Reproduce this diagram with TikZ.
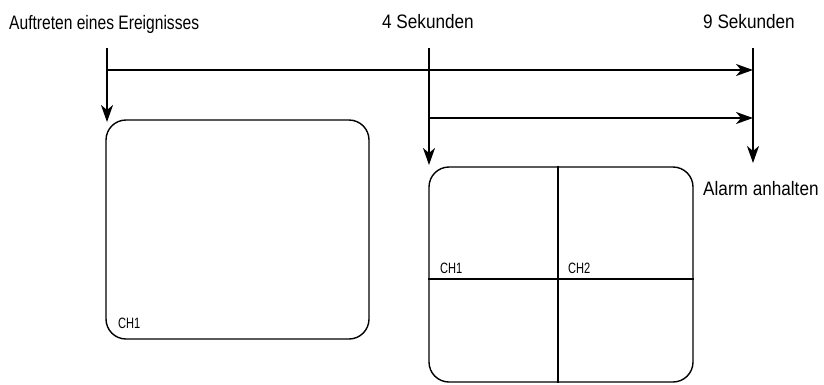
\documentclass[tikz,border=0pt]{standalone}
\usepackage{fontspec}
\setmainfont{Liberation Sans}[FakeStretch=0.88]
\newfontfamily\evfont{Liberation Sans}[FakeStretch=0.8]
\newfontfamily\chfont{Liberation Sans}[FakeStretch=0.74]
\usetikzlibrary{positioning,arrows.meta}
\tikzset{
  tline/.style={-{Stealth[length=17pt,width=12pt,inset=5pt]},line width=1.6pt},
  screen/.style={draw,line width=1.4pt,rounded corners=20pt,inner sep=0pt},
  divln/.style={line width=1.4pt},
  lbl/.style={font=\fontsize{19.5}{22}\selectfont,inner sep=0pt,anchor=base west},
  chlbl/.style={font=\chfont\fontsize{15}{17}\selectfont,inner sep=0pt,anchor=base west},
}
\begin{document}
\begin{tikzpicture}[x=1pt,y=-1pt]
  \useasboundingbox (0,0) rectangle (824,384);
  % time marks
  \node[lbl,font=\evfont\fontsize{19.5}{22}\selectfont] (ev) at (9,29) {Auftreten eines Ereignisses};
  \node[lbl] (sec4) at (382,28) {4 Sekunden};
  \node[lbl] (sec9) at (703,28) {9 Sekunden};
  \coordinate (ev0) at (107,48);
  \coordinate (ev1) at (107,122);
  \coordinate (s40) at (429,48);
  \coordinate (s41) at (429,165);
  \coordinate (s90) at (753,48);
  \coordinate (s91) at (753,163);
  \coordinate (ha) at (107,70);
  \coordinate (hb) at (753,70);
  \coordinate (hc) at (429,118);
  \coordinate (hd) at (753,118);
  \draw[tline] (ev0) -- (ev1);
  \draw[tline] (s40) -- (s41);
  \draw[tline] (s90) -- (s91);
  \draw[tline] (ha) -- (hb);
  \draw[tline] (hc) -- (hd);
  \node[lbl] (stop) at (703,195) {Alarm anhalten};
  % screens
  \node[screen,minimum width=263pt,minimum height=219pt] (scr1) at (237.5,229.5) {};
  \node[chlbl] (ch1a) at (118,328) {CH1};
  \node[screen,minimum width=264pt,minimum height=215pt] (scr4) at (561,274.5) {};
  \draw[divln] ([xshift=-3pt]scr4.north) -- ([xshift=-3pt]scr4.south);
  \draw[divln] ([yshift=-4.5pt]scr4.west) -- ([yshift=-4.5pt]scr4.east);
  \node[chlbl] (ch1b) at (440,273) {CH1};
  \node[chlbl] (ch2b) at (568,273) {CH2};
\end{tikzpicture}
\end{document}
